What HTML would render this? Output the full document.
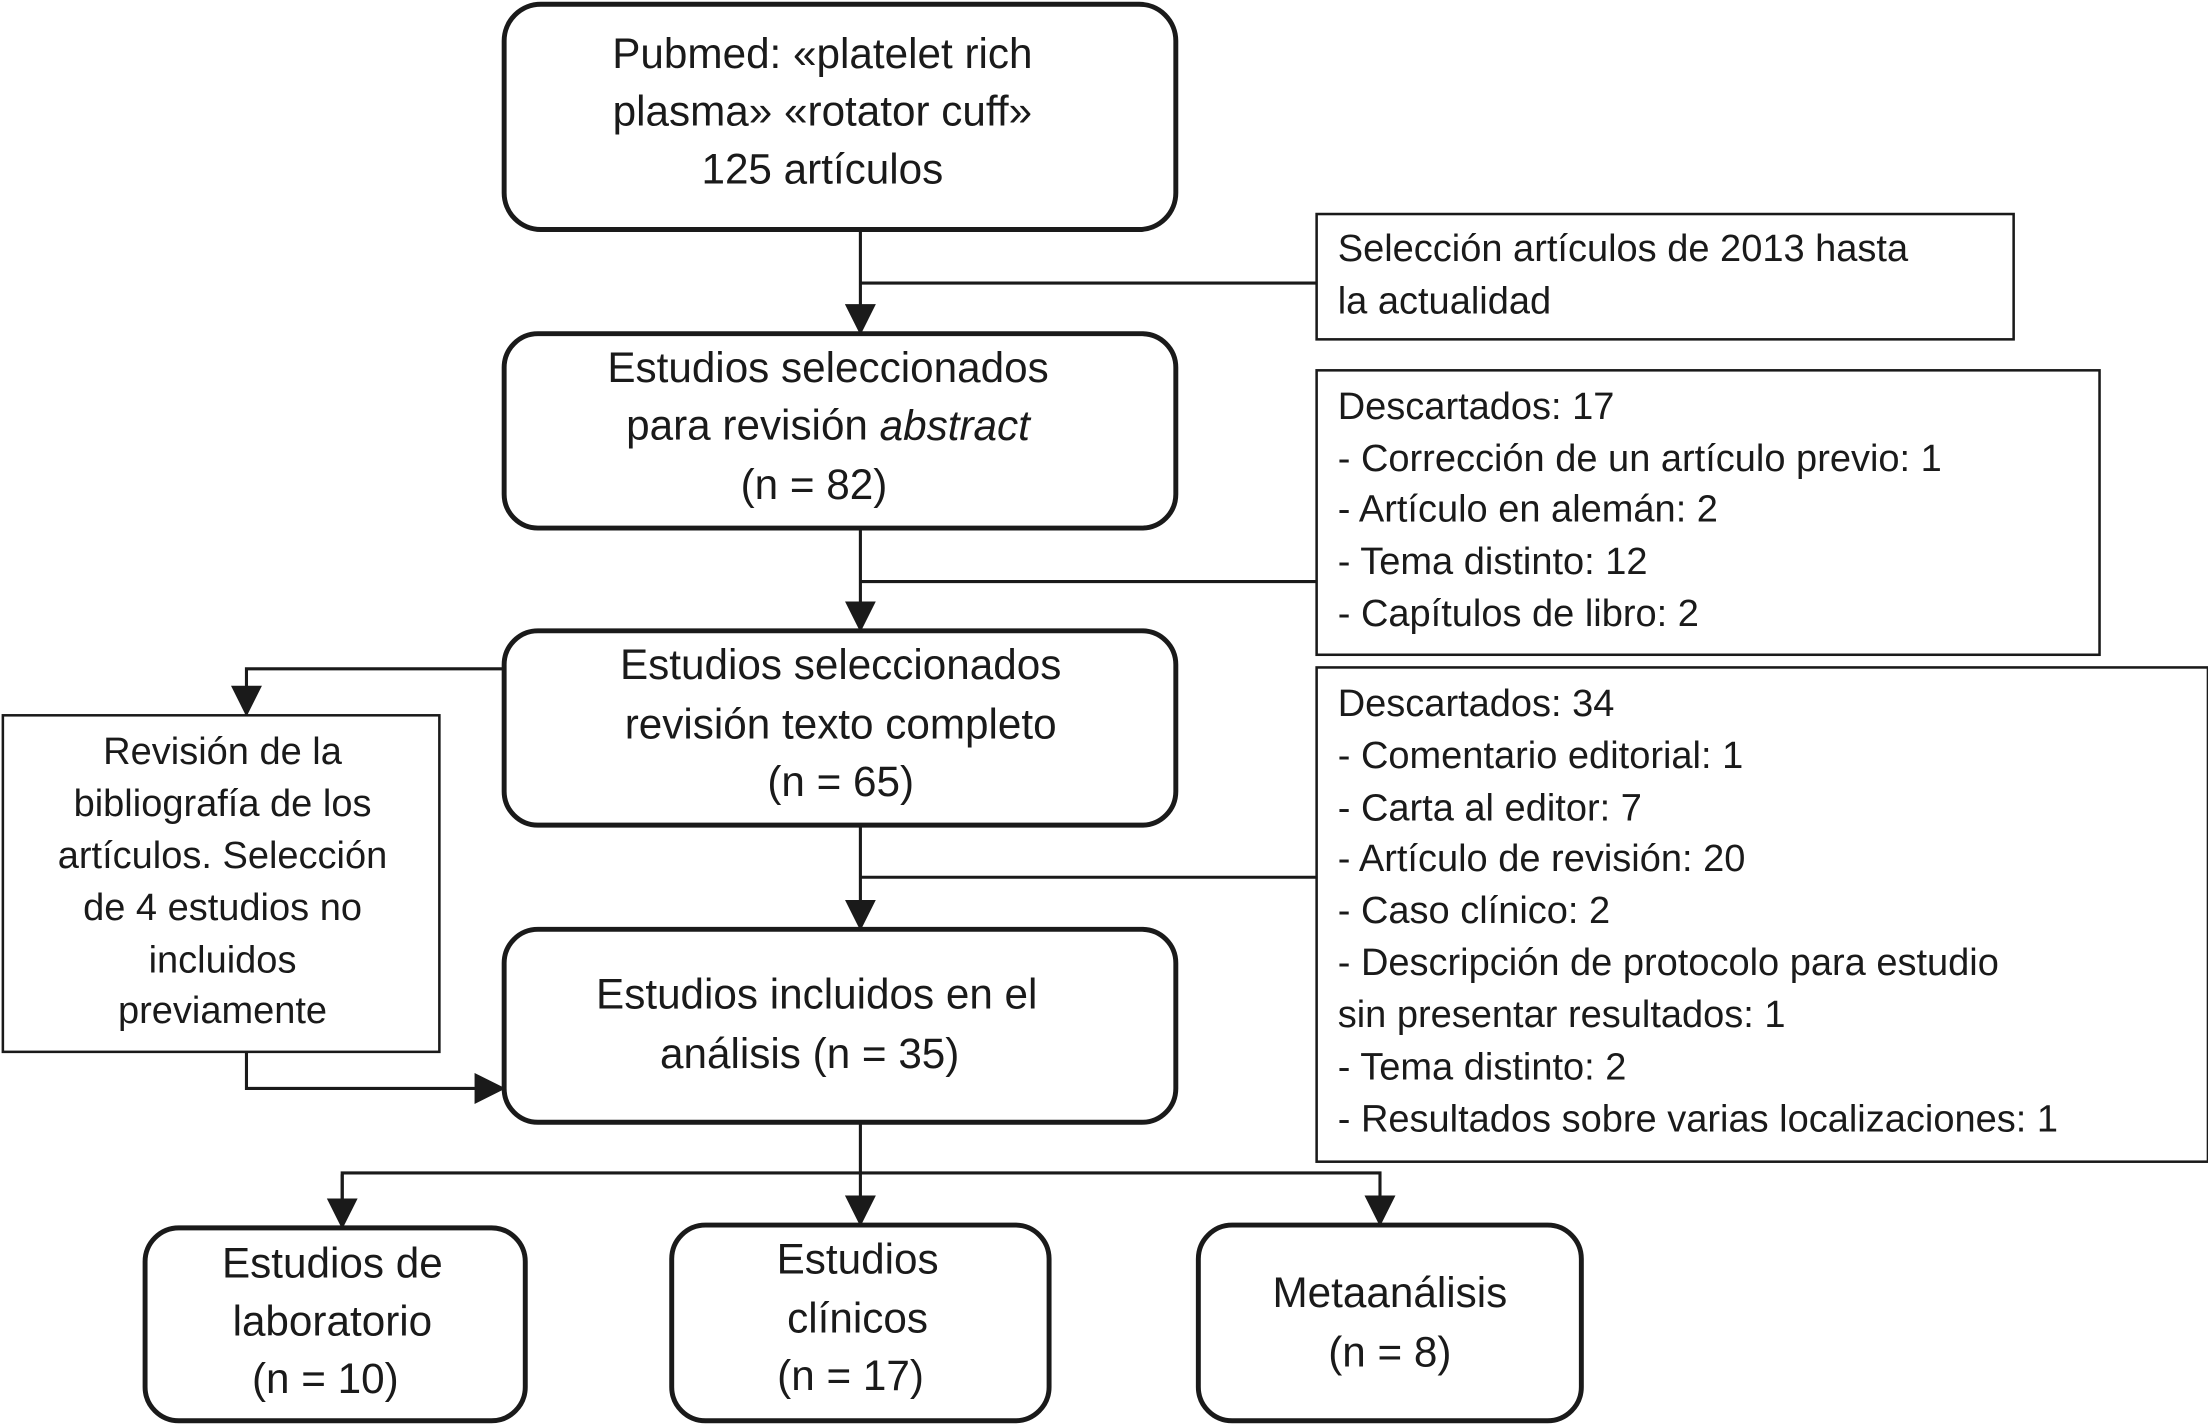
<!DOCTYPE html>
<html><head><meta charset="utf-8"><style>
html,body{margin:0;padding:0;background:#fff;}
svg{display:block;}
text{font-family:"Liberation Sans",Arial,sans-serif;fill:#1a1a1a;dominant-baseline:central;}
.m{font-size:30px;text-anchor:middle;}
.s{font-size:27px;}
.c{font-size:27px;text-anchor:middle;}
</style></head><body>
<svg width="2208" height="1425" viewBox="0 0 1568 1012" xmlns="http://www.w3.org/2000/svg">
<defs><marker id="a" markerWidth="10" markerHeight="10" refX="9" refY="5" orient="auto" markerUnits="userSpaceOnUse" viewBox="0 0 10 10"><path d="M0,0 L10,5 L0,10 z" fill="#1a1a1a"/></marker>
<marker id="ar" markerWidth="22" markerHeight="22" refX="20" refY="11" orient="auto" markerUnits="userSpaceOnUse" viewBox="0 0 22 22"><path d="M0,0 L22,11 L0,22 z" fill="#1a1a1a"/></marker></defs>
<g fill="none" stroke="#1a1a1a" stroke-width="3.5">
<rect x="358" y="3" width="477" height="160" rx="26"/>
<rect x="358" y="237" width="477" height="138" rx="24"/>
<rect x="358" y="448" width="477" height="138" rx="24"/>
<rect x="358" y="660" width="477" height="137" rx="24"/>
<rect x="103" y="872" width="270" height="137" rx="24"/>
<rect x="477" y="870" width="268" height="139" rx="24"/>
<rect x="851" y="870" width="272" height="139" rx="24"/>
</g>
<g fill="none" stroke="#1a1a1a" stroke-width="1.8">
<rect x="935" y="152" width="495" height="89"/>
<rect x="935" y="263" width="556" height="202"/>
<rect x="935" y="474" width="633" height="351"/>
<rect x="2" y="508" width="310" height="239"/>
</g>
<g fill="none" stroke="#1a1a1a" stroke-width="2.2">
<line x1="611" y1="163" x2="611" y2="236" marker-end="url(#ar)"/>
<line x1="611" y1="201" x2="935" y2="201"/>
<line x1="611" y1="375" x2="611" y2="447" marker-end="url(#ar)"/>
<line x1="611" y1="413" x2="935" y2="413"/>
<line x1="611" y1="586" x2="611" y2="659" marker-end="url(#ar)"/>
<line x1="611" y1="623" x2="935" y2="623"/>
<polyline points="358,475 175,475 175,507" marker-end="url(#ar)"/>
<polyline points="175,747 175,773 357,773" marker-end="url(#ar)"/>
<line x1="611" y1="797" x2="611" y2="869" marker-end="url(#ar)"/>
<polyline points="243,871 243,833 980,833 980,869" marker-end="url(#ar)"/>
<line x1="243" y1="834" x2="243" y2="871" marker-end="url(#ar)"/>
</g>
<text class="m" x="584" y="38">Pubmed: «platelet rich</text>
<text class="m" x="584" y="79">plasma» «rotator cuff»</text>
<text class="m" x="584" y="120">125 artículos</text>
<text class="m" x="588" y="261">Estudios seleccionados</text>
<text class="m" x="588" y="302">para revisión <tspan font-style="italic">abstract</tspan></text>
<text class="m" x="578" y="344">(n = 82)</text>
<text class="m" x="597" y="472">Estudios seleccionados</text>
<text class="m" x="597" y="514">revisión texto completo</text>
<text class="m" x="597" y="555">(n = 65)</text>
<text class="m" x="580" y="706">Estudios incluidos en el</text>
<text class="m" x="575" y="748">análisis (n = 35)</text>
<text class="m" x="236" y="897">Estudios de</text>
<text class="m" x="236" y="938">laboratorio</text>
<text class="m" x="231" y="979">(n = 10)</text>
<text class="m" x="609" y="894">Estudios</text>
<text class="m" x="609" y="936">clínicos</text>
<text class="m" x="604" y="977">(n = 17)</text>
<text class="m" x="987" y="918">Metaanálisis</text>
<text class="m" x="987" y="960">(n = 8)</text>
<text class="s" x="950" y="177">Selección artículos de 2013 hasta</text>
<text class="s" x="950" y="214">la actualidad</text>
<text class="s" x="950" y="289">Descartados: 17</text>
<text class="s" x="950" y="326">- Corrección de un artículo previo: 1</text>
<text class="s" x="950" y="362">- Artículo en alemán: 2</text>
<text class="s" x="950" y="399">- Tema distinto: 12</text>
<text class="s" x="950" y="436">- Capítulos de libro: 2</text>
<text class="s" x="950" y="500">Descartados: 34</text>
<text class="s" x="950" y="537">- Comentario editorial: 1</text>
<text class="s" x="950" y="574">- Carta al editor: 7</text>
<text class="s" x="950" y="610">- Artículo de revisión: 20</text>
<text class="s" x="950" y="647">- Caso clínico: 2</text>
<text class="s" x="950" y="684">- Descripción de protocolo para estudio</text>
<text class="s" x="950" y="721">sin presentar resultados: 1</text>
<text class="s" x="950" y="758">- Tema distinto: 2</text>
<text class="s" x="950" y="795">- Resultados sobre varias localizaciones: 1</text>
<text class="c" x="158" y="534">Revisión de la</text>
<text class="c" x="158" y="571">bibliografía de los</text>
<text class="c" x="158" y="608">artículos. Selección</text>
<text class="c" x="158" y="645">de 4 estudios no</text>
<text class="c" x="158" y="682">incluidos</text>
<text class="c" x="158" y="718">previamente</text>
</svg>
</body></html>
